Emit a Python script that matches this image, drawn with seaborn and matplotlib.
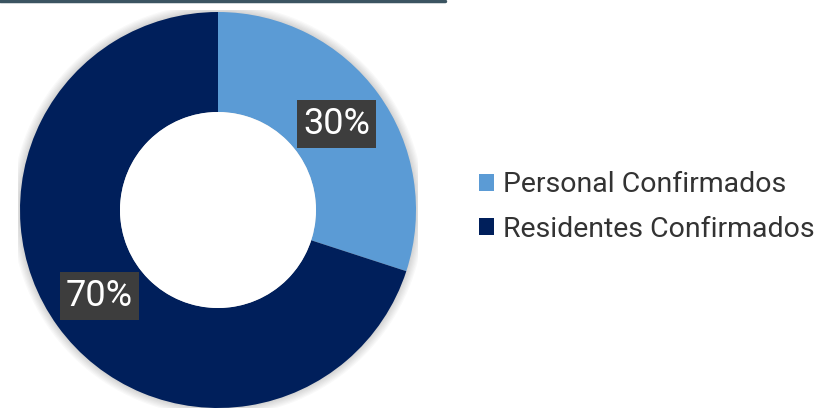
import matplotlib
matplotlib.use("Agg")
import matplotlib.pyplot as plt
import seaborn as sns
from matplotlib.lines import Line2D
from matplotlib.patches import Circle, Rectangle

categories = ["Personal Confirmados", "Residentes Confirmados"]
values = [30, 70]
colors = ["#5b9bd5", "#001f5b"]

sns.set_theme(style="white")
plt.rcParams['font.family'] = ['Roboto', 'DejaVu Sans']

W, H = 822, 408
fig = plt.figure(figsize=(W / 100, H / 100), dpi=100)
fig.patch.set_facecolor("white")

cx, cy, r = 218, 210, 200
ax = fig.add_axes([(cx - r) / W, (H - cy - r) / H, 2 * r / W, 2 * r / H])
ax.set_xlim(-1, 1)
ax.set_ylim(-1, 1)
ax.set_aspect("equal")
ax.axis("off")

# soft shadow
for i in range(8):
    ax.add_patch(Circle((0, 0), 0.99 + i * 0.006, facecolor="#000000",
                        alpha=0.025, edgecolor="none", zorder=0))

wedges, texts, autotexts = ax.pie(
    values, colors=colors, startangle=90, counterclock=False,
    radius=0.99, wedgeprops=dict(width=0.5, edgecolor="none"),
    autopct=lambda p: f"{p:.0f}%", pctdistance=0.74,
    textprops=dict(color="white", fontsize=26),
)
for w in wedges:
    w.set_zorder(2)
for t in autotexts:
    t.set_zorder(5)
    t.set_bbox(dict(boxstyle="square,pad=0.17", facecolor="#3d3d3d",
                    edgecolor="none"))
ax.add_patch(Circle((0, 0), 0.49, facecolor="white", edgecolor="none", zorder=3))
ax.set_xlim(-1, 1)
ax.set_ylim(-1, 1)

# top rule
fig.add_artist(Line2D([0, 445 / W], [1 - 1 / H, 1 - 1 / H], color="#3b5461",
                      linewidth=2.5, transform=fig.transFigure))

handles = [Rectangle((0, 0), 1, 1, facecolor=c, edgecolor="none") for c in colors]
leg = fig.legend(handles, categories, loc="center left",
                 bbox_to_anchor=(479 / W, 1 - 207 / H), frameon=False,
                 fontsize=20.5, handlelength=0.53, handleheight=0.53,
                 handletextpad=0.33, labelspacing=0.6, borderpad=0,
                 borderaxespad=0)
for t in leg.get_texts():
    t.set_color("#333333")

fig.savefig("out.png", dpi=100, facecolor="white")
